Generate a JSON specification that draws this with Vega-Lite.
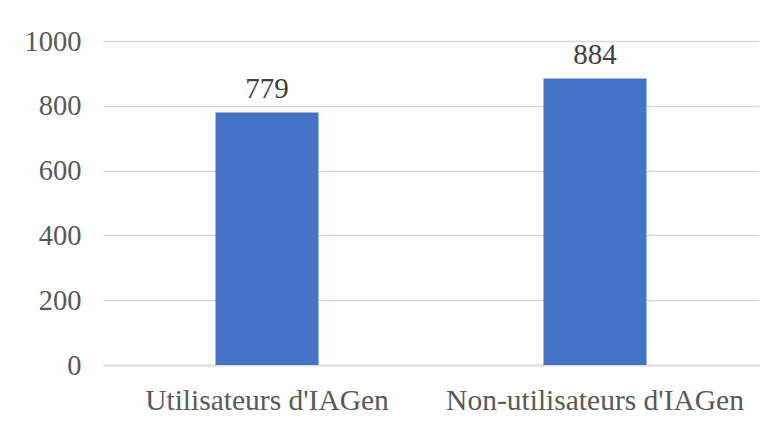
{
  "$schema": "https://vega.github.io/schema/vega-lite/v6.json",
  "width": 656,
  "height": 324,
  "autosize": {"type": "none"},
  "padding": {"left": 103, "top": 41, "right": 17, "bottom": 58},
  "background": "white",
  "config": {
    "view": {"stroke": null},
    "font": "Liberation Serif"
  },
  "data": {
    "values": [
      {"groupe": "Utilisateurs d'IAGen", "valeur": 779},
      {"groupe": "Non-utilisateurs d'IAGen", "valeur": 884}
    ]
  },
  "encoding": {
    "x": {
      "field": "groupe",
      "type": "nominal",
      "sort": null,
      "scale": {"paddingInner": 0, "paddingOuter": 0},
      "axis": {
        "title": null,
        "labelAngle": 0,
        "labelFont": "Liberation Serif",
        "labelFontSize": 29.5,
        "labelColor": "#595959",
        "labelBaseline": "alphabetic",
        "labelPadding": 44,
        "labelLimit": 0,
        "ticks": false,
        "tickSize": 0,
        "domainColor": "#d9d9d9",
        "domainWidth": 1.5
      }
    },
    "y": {
      "field": "valeur",
      "type": "quantitative",
      "scale": {"domain": [0, 1000]},
      "axis": {
        "title": null,
        "values": [0, 200, 400, 600, 800, 1000],
        "format": "d",
        "labelFont": "Liberation Serif",
        "labelFontSize": 28.5,
        "labelColor": "#595959",
        "labelPadding": 22,
        "ticks": false,
        "tickSize": 0,
        "domain": false,
        "gridColor": "#d9d9d9",
        "gridWidth": 1.5
      }
    }
  },
  "layer": [
    {
      "mark": {"type": "bar", "color": "#4472C4", "width": {"band": 0.314}}
    },
    {
      "mark": {
        "type": "text",
        "baseline": "alphabetic",
        "dy": -15,
        "font": "Liberation Serif",
        "fontSize": 29,
        "color": "#404040"
      },
      "encoding": {"text": {"field": "valeur", "type": "quantitative"}}
    }
  ]
}
